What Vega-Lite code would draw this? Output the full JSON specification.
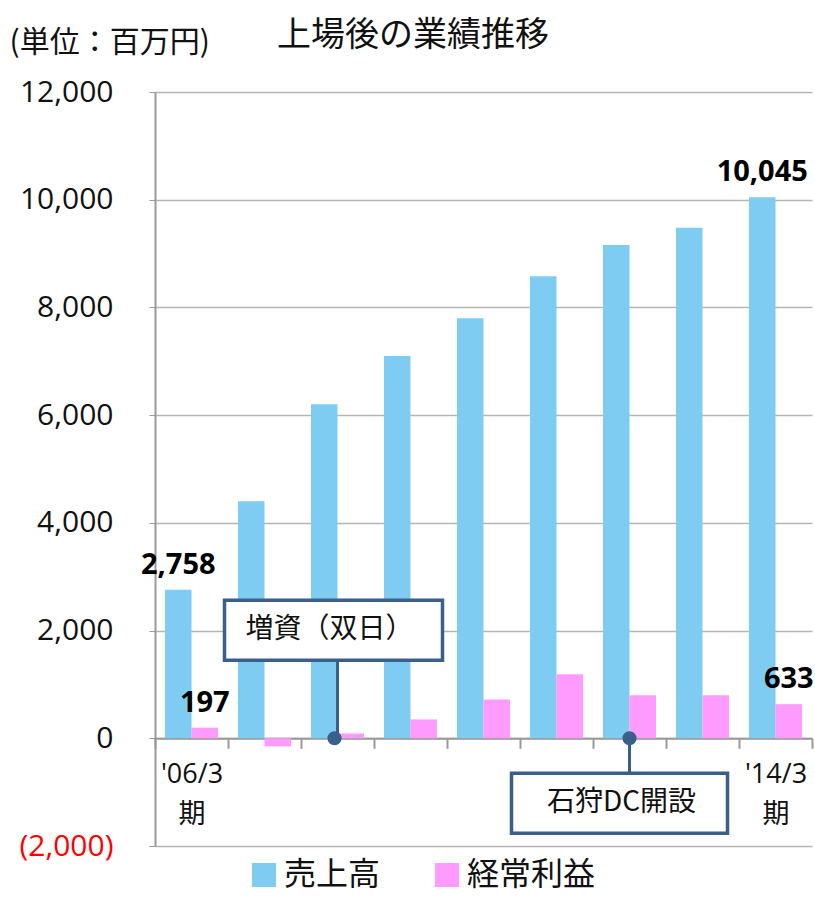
{
  "$schema": "https://vega.github.io/schema/vega-lite/v6.json",
  "autosize": "none",
  "width": 657,
  "height": 754,
  "padding": {"left": 155, "top": 92, "right": 3, "bottom": 51},
  "background": "white",
  "title": {
    "text": "上場後の業績推移",
    "anchor": "start",
    "dx": 268,
    "dy": 30,
    "offset": 4,
    "font": "Noto Sans CJK JP",
    "fontSize": 34,
    "fontWeight": "normal",
    "color": "#111111"
  },
  "config": {
    "view": {"stroke": null},
    "font": "Open Sans, Noto Sans CJK JP"
  },
  "datasets": {
    "main": [
      {"period": "'06/3", "series": "売上高", "value": 2758},
      {"period": "'06/3", "series": "経常利益", "value": 197},
      {"period": "'07/3", "series": "売上高", "value": 4400},
      {"period": "'07/3", "series": "経常利益", "value": -150},
      {"period": "'08/3", "series": "売上高", "value": 6200},
      {"period": "'08/3", "series": "経常利益", "value": 90},
      {"period": "'09/3", "series": "売上高", "value": 7100},
      {"period": "'09/3", "series": "経常利益", "value": 350},
      {"period": "'10/3", "series": "売上高", "value": 7800},
      {"period": "'10/3", "series": "経常利益", "value": 720},
      {"period": "'11/3", "series": "売上高", "value": 8580},
      {"period": "'11/3", "series": "経常利益", "value": 1190},
      {"period": "'12/3", "series": "売上高", "value": 9160},
      {"period": "'12/3", "series": "経常利益", "value": 800},
      {"period": "'13/3", "series": "売上高", "value": 9480},
      {"period": "'13/3", "series": "経常利益", "value": 800},
      {"period": "'14/3", "series": "売上高", "value": 10045},
      {"period": "'14/3", "series": "経常利益", "value": 633}
    ]
  },
  "data": {"name": "main"},
  "encoding": {
    "x": {
      "field": "period",
      "type": "nominal",
      "sort": null,
      "scale": {"paddingInner": 0, "paddingOuter": 0},
      "axis": {
        "title": null,
        "orient": "bottom",
        "offset": -107.7,
        "tickBand": "extent",
        "tickSize": 10,
        "tickColor": "#999999",
        "tickWidth": 2,
        "domainColor": "#999999",
        "domainWidth": 2,
        "labelAngle": 0,
        "labelExpr": "datum.index == 0 || datum.index == 1 ? [datum.value, '期'] : ''",
        "labelFontSize": 27,
        "labelLineHeight": 40,
        "labelPadding": 13,
        "labelColor": "#111111",
        "labelFont": "Open Sans, Noto Sans CJK JP",
        "labelBaseline": "top"
      }
    },
    "y": {
      "field": "value",
      "type": "quantitative",
      "scale": {"domain": [-2000, 12000], "nice": false, "zero": false},
      "axis": {
        "title": "(単位：百万円)",
        "titleAngle": 0,
        "titleAlign": "left",
        "titleBaseline": "middle",
        "titleX": -146,
        "titleY": -50,
        "titleFont": "Noto Sans CJK JP",
        "titleFontSize": 30,
        "titleFontWeight": "normal",
        "titleColor": "#111111",
        "values": [-2000, 0, 2000, 4000, 6000, 8000, 10000, 12000],
        "labelExpr": "datum.value < 0 ? '(' + format(-datum.value, ',') + ')' : format(datum.value, ',')",
        "labelColor": {"condition": {"test": "datum.value < 0", "value": "#ff0000"}, "value": "#111111"},
        "labelFontSize": 30,
        "labelPadding": 36,
        "tickSize": 6,
        "tickColor": "#999999",
        "domainColor": "#999999",
        "domainWidth": 2,
        "gridColor": "#b5b5b5",
        "gridWidth": 1.5
      }
    }
  },
  "layer": [
    {
      "mark": {"type": "bar"},
      "encoding": {
        "xOffset": {"field": "series", "type": "nominal", "sort": ["売上高", "経常利益"], "scale": {"paddingInner": 0, "paddingOuter": 0.377}},
        "color": {
          "field": "series",
          "type": "nominal",
          "sort": ["売上高", "経常利益"],
          "scale": {"domain": ["売上高", "経常利益"], "range": ["#7FCCF3", "#FF9BFF"]},
          "legend": {
            "title": null,
            "orient": "none",
            "direction": "horizontal",
            "legendX": 93,
            "legendY": 767,
            "symbolType": "square",
            "symbolSize": 576,
            "symbolStrokeWidth": 0,
            "labelFontSize": 32,
            "labelFont": "Noto Sans CJK JP",
            "labelColor": "#111111",
            "columnPadding": 50,
            "labelOffset": 4
          }
        }
      }
    },
    {
      "transform": [{"filter": "datum.period == \"'06/3\" || datum.period == \"'14/3\""}],
      "mark": {"type": "text", "baseline": "bottom", "dy": -10, "fontSize": 29, "fontWeight": "bold", "color": "#000000", "font": "Open Sans"},
      "encoding": {
        "xOffset": {"field": "series", "type": "nominal", "sort": ["売上高", "経常利益"]},
        "text": {"field": "value", "type": "quantitative", "format": ","}
      }
    },
    {
      "transform": [{"filter": "datum.period == \"'08/3\" && datum.series == '売上高'"}],
      "mark": {"type": "rule", "color": "#3A5F8B", "strokeWidth": 3},
      "encoding": {"y": {"datum": 0, "type": "quantitative"}, "y2": {"datum": 1450}}
    },
    {
      "transform": [{"filter": "datum.period == \"'08/3\" && datum.series == '売上高'"}],
      "mark": {"type": "point", "filled": true, "color": "#3A5F8B", "size": 200, "opacity": 1, "xOffset": -3},
      "encoding": {"y": {"datum": 0, "type": "quantitative"}}
    },
    {
      "transform": [{"filter": "datum.period == \"'08/3\" && datum.series == '売上高'"}],
      "mark": {"type": "bar", "width": 218, "fill": "white", "stroke": "#3A5F8B", "strokeWidth": 3.5, "xOffset": -4},
      "encoding": {"y": {"datum": 2565, "type": "quantitative"}, "y2": {"datum": 1450}}
    },
    {
      "transform": [{"filter": "datum.period == \"'08/3\" && datum.series == '売上高'"}],
      "mark": {"type": "text", "text": "増資（双日）", "font": "Noto Sans CJK JP", "fontSize": 28, "color": "#111111", "baseline": "middle", "xOffset": -8},
      "encoding": {"y": {"datum": 2007, "type": "quantitative"}}
    },
    {
      "transform": [{"filter": "datum.period == \"'12/3\" && datum.series == '売上高'"}],
      "mark": {"type": "rule", "color": "#3A5F8B", "strokeWidth": 3},
      "encoding": {"y": {"datum": 0, "type": "quantitative"}, "y2": {"datum": -650}}
    },
    {
      "transform": [{"filter": "datum.period == \"'12/3\" && datum.series == '売上高'"}],
      "mark": {"type": "point", "filled": true, "color": "#3A5F8B", "size": 200, "opacity": 1},
      "encoding": {"y": {"datum": 0, "type": "quantitative"}}
    },
    {
      "transform": [{"filter": "datum.period == \"'12/3\" && datum.series == '売上高'"}],
      "mark": {"type": "bar", "width": 216, "fill": "white", "stroke": "#3A5F8B", "strokeWidth": 3.5, "xOffset": -10},
      "encoding": {"y": {"datum": -650, "type": "quantitative"}, "y2": {"datum": -1765}}
    },
    {
      "transform": [{"filter": "datum.period == \"'12/3\" && datum.series == '売上高'"}],
      "mark": {"type": "text", "text": "石狩DC開設", "font": "Noto Sans CJK JP", "fontSize": 28, "color": "#111111", "baseline": "middle", "xOffset": -8},
      "encoding": {"y": {"datum": -1207, "type": "quantitative"}}
    }
  ]
}
